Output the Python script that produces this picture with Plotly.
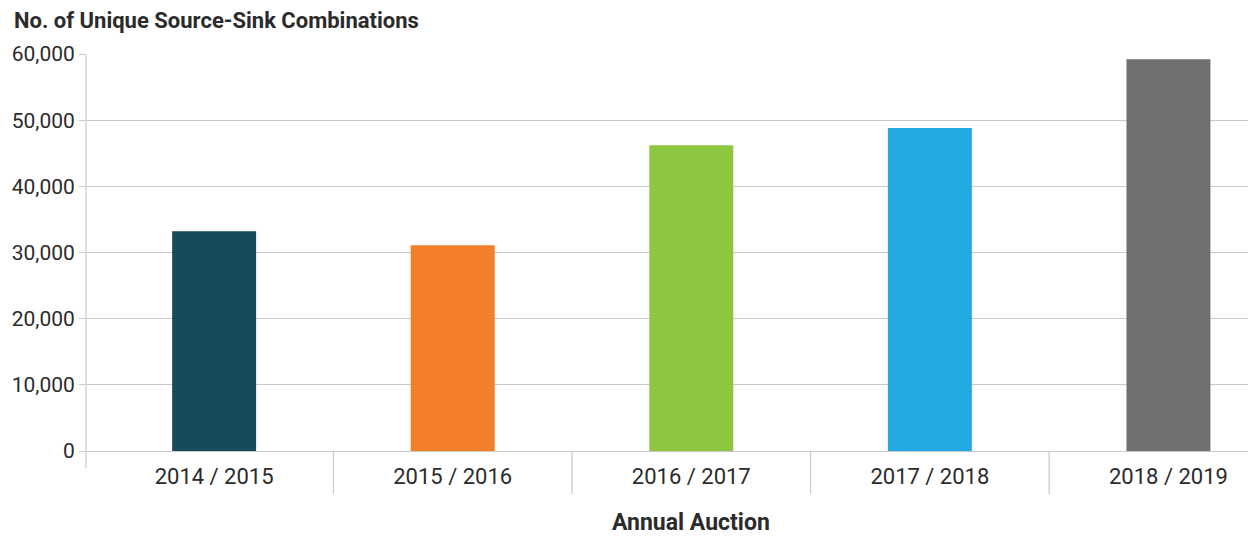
import plotly.graph_objects as go

# values
auctions = ["2014 / 2015", "2015 / 2016", "2016 / 2017", "2017 / 2018", "2018 / 2019"]
combinations = [33200, 31100, 46200, 48800, 59200]
bar_colors = ["#174a5a", "#f47f2a", "#8dc63f", "#23a9e1", "#6f706f"]
y_ticks = [0, 10000, 20000, 30000, 40000, 50000, 60000]

FONT = "Roboto, Liberation Sans, sans-serif"
TEXT = "#2b2b2b"
GRID = "#c9c9c9"

fig = go.Figure(go.Bar(
    x=list(range(len(auctions))), y=combinations,
    marker=dict(color=bar_colors, line=dict(width=0)),
    width=0.352, hoverinfo="x+y",
))

# category dividers below the axis, as in the reference
shapes = []
for i in range(len(auctions) - 1):
    shapes.append(dict(type="line", xref="x", yref="paper", x0=i + 0.5, x1=i + 0.5,
                       y0=0, y1=-0.108, line=dict(color=GRID, width=1.2)))
# left axis line running slightly below zero
shapes.append(dict(type="line", xref="paper", yref="paper", x0=0, x1=0,
                   y0=-0.043, y1=1, line=dict(color=GRID, width=1.2)))

fig.update_layout(
    width=1248, height=530,
    margin=dict(l=78, r=0, t=46, b=87, autoexpand=False),
    plot_bgcolor="white", paper_bgcolor="white",
    font=dict(family=FONT, color=TEXT),
    showlegend=False,
    shapes=shapes,
    title=dict(text="<b>No. of Unique Source-Sink Combinations</b>",
               xref="container", yref="container", x=6 / 1248, y=1 - 5 / 530,
               xanchor="left", yanchor="top",
               font=dict(family=FONT, size=22, color=TEXT)),
    annotations=[dict(text="<b>Annual Auction</b>", x=2, xref="x", y=-0.181, yref="paper",
                      yanchor="middle", showarrow=False,
                      font=dict(family=FONT, size=23, color=TEXT))],
)
fig.update_xaxes(
    range=[-0.537, 4.367], automargin=False,
    tickmode="array", tickvals=list(range(len(auctions))), ticktext=auctions,
    tickfont=dict(size=22, color=TEXT), ticks="outside", ticklen=6, tickcolor="rgba(0,0,0,0)",
    showgrid=False, showline=False, zeroline=False, fixedrange=True,
)
fig.update_yaxes(
    range=[0, 60000], tickvals=y_ticks, tickformat=",", automargin=False,
    tickfont=dict(size=21, color=TEXT),
    showgrid=True, gridcolor=GRID, gridwidth=1.2,
    zeroline=True, zerolinecolor=GRID, zerolinewidth=1.2,
    ticks="outside", ticklen=6, tickcolor=GRID,
    showline=False, fixedrange=True,
)

fig.write_html("out.html")
